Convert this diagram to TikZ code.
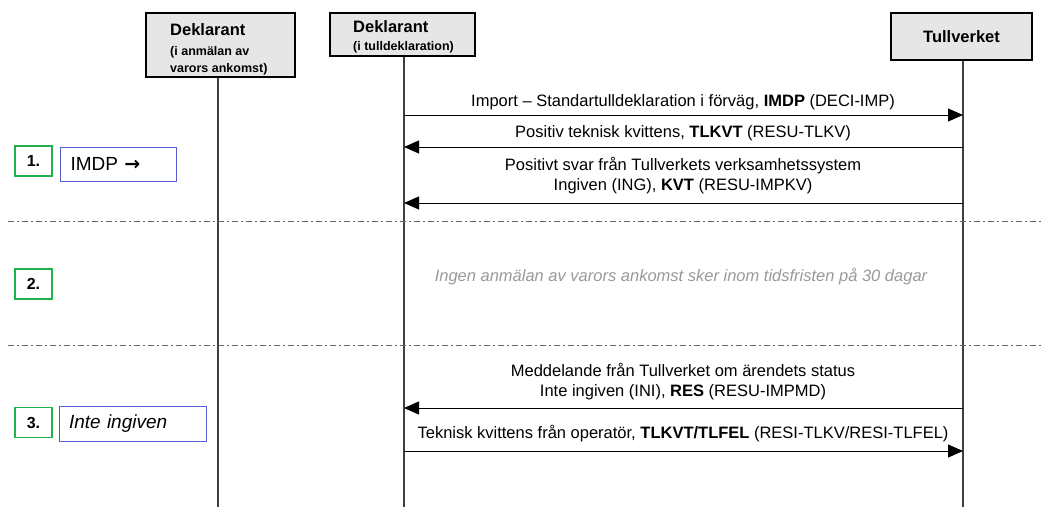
\documentclass[tikz,border=0pt]{standalone}
\usepackage{fontspec}
\setmainfont{Liberation Sans}
\newfontfamily\symfont{DejaVu Sans}
\usetikzlibrary{arrows.meta}
\definecolor{hdrfill}{HTML}{E6E6E6}
\definecolor{stepgreen}{HTML}{22B14C}
\definecolor{noteblue}{HTML}{5B5BD6}
\definecolor{lifegray}{HTML}{404040}
\begin{document}
\begin{tikzpicture}[x=1pt,y=-1pt,
  hdr/.style={draw=black,line width=2pt,fill=hdrfill,inner sep=0pt,align=center},
  lifeline/.style={draw=lifegray,line width=1.3pt},
  msg/.style={draw=black,line width=0.9pt,-{Triangle[length=15pt,width=13pt]}},
  lbl/.style={font=\fontsize{16.5}{20}\selectfont,align=center,inner sep=0pt},
  stepbox/.style={draw=stepgreen,line width=1.6pt,minimum width=37pt,minimum height=30pt,inner sep=0pt,font=\fontsize{16}{18}\selectfont\bfseries},
  notebox/.style={draw=noteblue,line width=1pt,inner sep=0pt,anchor=west,font=\fontsize{19}{22}\selectfont},
  sep/.style={draw=lifegray!80,line width=1pt,dash pattern=on 6pt off 3pt on 2pt off 3pt}
]
\useasboundingbox (0,0) rectangle (1043,507);
% headers
\node[hdr,minimum width=149pt,minimum height=64pt] (h1) at (220.5,45) {};
\node[font=\fontsize{16.5}{18}\selectfont\bfseries,anchor=west,inner sep=0pt] (t1) at (170,30) {Deklarant};
\node[font=\fontsize{12.5}{17}\selectfont\bfseries,align=left,anchor=north west,inner sep=0pt] (t1b) at (170,46) {(i anmälan av\\varors ankomst)};
\node[hdr,minimum width=145pt,minimum height=43pt] (h2) at (402.5,34.5) {};
\node[font=\fontsize{16.5}{18}\selectfont\bfseries,anchor=west,inner sep=0pt] (t2) at (353,27) {Deklarant};
\node[font=\fontsize{12.5}{15}\selectfont\bfseries,anchor=west,inner sep=0pt] (t2b) at (353,47) {(i tulldeklaration)};
\node[hdr,minimum width=141pt,minimum height=47pt,font=\fontsize{16.5}{18}\selectfont\bfseries] (h3) at (961.5,36.5) {Tullverket};
% lifelines
\coordinate (e1) at (218,507);
\coordinate (e2) at (404,507);
\coordinate (e3) at (963,507);
\draw[lifeline] (h1.south -| e1) -- (e1);
\draw[lifeline] (h2.south -| e2) -- (e2);
\draw[lifeline] (h3.south -| e3) -- (e3);
% separators
\coordinate (s1a) at (8,221); \coordinate (s1b) at (1043,221);
\coordinate (s2a) at (8,345); \coordinate (s2b) at (1043,345);
\draw[sep] (s1a) -- (s1b);
\draw[sep] (s2a) -- (s2b);
% messages
\coordinate (a1l) at (404,115); \coordinate (a1r) at (963,115);
\draw[msg] (a1l) -- (a1r);
\node[lbl] (l1) at (683,102) {Import – Standartulldeklaration i förväg, \textbf{IMDP} (DECI-IMP)};
\coordinate (a2l) at (404,147); \coordinate (a2r) at (963,147);
\draw[msg] (a2r) -- (a2l);
\node[lbl] (l2) at (683,133) {Positiv teknisk kvittens, \textbf{TLKVT} (RESU-TLKV)};
\coordinate (a3l) at (404,203); \coordinate (a3r) at (963,203);
\draw[msg] (a3r) -- (a3l);
\node[lbl] (l3) at (683,176) {Positivt svar från Tullverkets verksamhetssystem\\Ingiven (ING), \textbf{KVT} (RESU-IMPKV)};
\node[lbl,text=black!40,font=\fontsize{16.5}{20}\selectfont\itshape] (l4) at (681,277) {Ingen anmälan av varors ankomst sker inom tidsfristen på 30 dagar};
\coordinate (a4l) at (404,408); \coordinate (a4r) at (963,408);
\draw[msg] (a4r) -- (a4l);
\node[lbl] (l5) at (683,382) {Meddelande från Tullverket om ärendets status\\Inte ingiven (INI), \textbf{RES} (RESU-IMPMD)};
\coordinate (a5l) at (404,451); \coordinate (a5r) at (963,451);
\draw[msg] (a5l) -- (a5r);
\node[lbl] (l6) at (683,434) {Teknisk kvittens från operatör, \textbf{TLKVT/TLFEL} (RESI-TLKV/RESI-TLFEL)};
% steps
\node[stepbox] (st1) at (33.5,161) {1.};
\node[stepbox] (st2) at (33.5,284) {2.};
\node[stepbox] (st3) at (33.5,422.5) {3.};
\node[notebox,minimum width=116pt,minimum height=34pt,text width=108pt,align=left] (n1) at (60,164) {\hspace*{6pt}IMDP {\symfont\bfseries →}};
\node[notebox,minimum width=147pt,minimum height=35pt,text width=140pt,align=left] (n3) at (59,423.5) {\hspace*{6pt}\itshape Inte ingiven};
\end{tikzpicture}
\end{document}
